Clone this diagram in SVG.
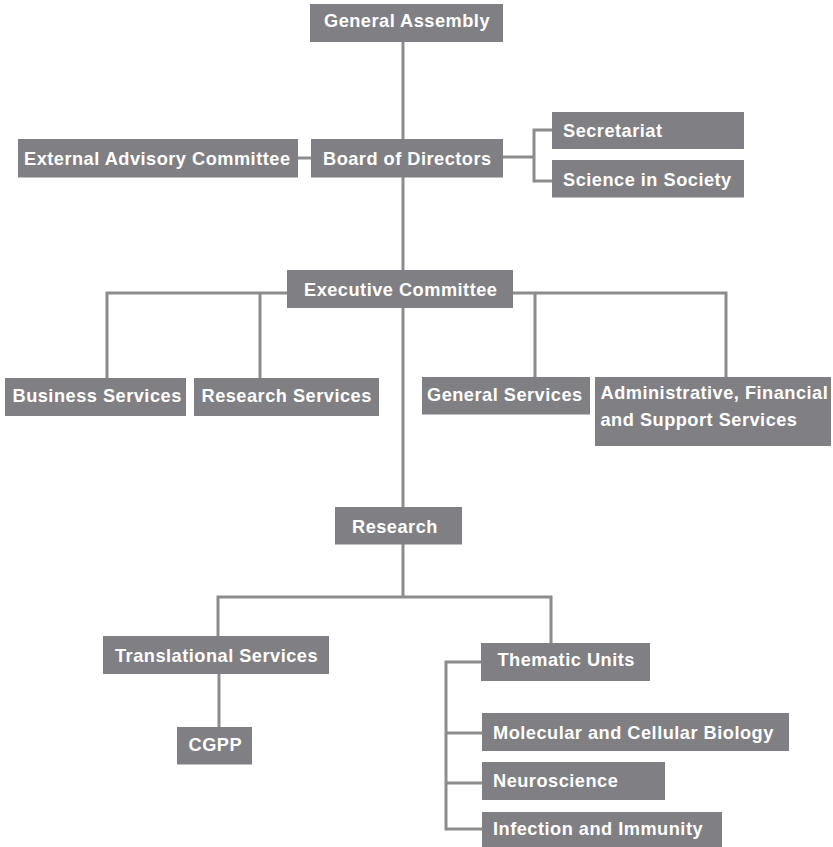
<svg xmlns="http://www.w3.org/2000/svg" width="833" height="847" viewBox="0 0 833 847">
<style>
.box{fill:#808084}
.t{fill:#ffffff;font-family:"Liberation Sans",Arial,sans-serif;font-weight:bold;font-size:18.2px;letter-spacing:0.5px}
.c{fill:none;stroke:#8c8c8e;stroke-width:3}
</style>
<rect width="833" height="847" fill="#ffffff"/>
<g id="connectors">
<path class="c" d="M403,42V139"/>
<path class="c" d="M298,158H311"/>
<path class="c" d="M503,157H534M552,130H534V181H552"/>
<path class="c" d="M403,177V270"/>
<path class="c" d="M107,378V293H726V377M260,293V378M535,293V377"/>
<path class="c" d="M403,308V507"/>
<path class="c" d="M403,544V597M218,636V597H551V643"/>
<path class="c" d="M219,674V727"/>
<path class="c" d="M481,662H446V829H482M446,733H482M446,783H482"/>
</g>
<g id="general-assembly"><rect class="box" x="310" y="4" width="193" height="38"/><text class="t" x="324" y="27">General Assembly</text></g>
<g id="external-advisory"><rect class="box" x="18" y="139" width="280" height="38.5"/><text class="t" x="24" y="165">External Advisory Committee</text></g>
<g id="board"><rect class="box" x="311" y="139" width="192" height="38.5"/><text class="t" x="323" y="165">Board of Directors</text></g>
<g id="secretariat"><rect class="box" x="552" y="112" width="192" height="37"/><text class="t" x="563" y="136.5">Secretariat</text></g>
<g id="science-in-society"><rect class="box" x="552" y="160" width="192" height="37.5"/><text class="t" x="563" y="186">Science in Society</text></g>
<g id="executive"><rect class="box" x="287" y="270" width="226" height="38"/><text class="t" x="304" y="295.5">Executive Committee</text></g>
<g id="business-services"><rect class="box" x="5" y="378" width="181" height="38"/><text class="t" x="12.5" y="402">Business Services</text></g>
<g id="research-services"><rect class="box" x="194" y="378" width="185" height="38"/><text class="t" x="201.5" y="402">Research Services</text></g>
<g id="general-services"><rect class="box" x="422" y="377" width="168" height="37.5"/><text class="t" x="427" y="400.5">General Services</text></g>
<g id="admin"><rect class="box" x="595" y="377" width="236" height="69"/><text class="t" x="600.5" y="398.5">Administrative, Financial</text><text class="t" x="600.5" y="425.5">and Support Services</text></g>
<g id="research"><rect class="box" x="335" y="507" width="127" height="37.5"/><text class="t" x="352" y="532.5">Research</text></g>
<g id="translational"><rect class="box" x="103" y="636" width="226" height="38"/><text class="t" x="115" y="661.5">Translational Services</text></g>
<g id="cgpp"><rect class="box" x="177" y="727" width="75" height="37.5"/><text class="t" x="188.5" y="750.5">CGPP</text></g>
<g id="thematic"><rect class="box" x="481" y="643" width="169" height="38"/><text class="t" x="497.5" y="665.5">Thematic Units</text></g>
<g id="molecular"><rect class="box" x="482" y="713" width="307" height="38"/><text class="t" x="493" y="738.5">Molecular and Cellular Biology</text></g>
<g id="neuroscience"><rect class="box" x="482" y="762" width="183" height="38"/><text class="t" x="493" y="787">Neuroscience</text></g>
<g id="infection"><rect class="box" x="482" y="812" width="240" height="36"/><text class="t" x="493" y="834.5">Infection and Immunity</text></g>
</svg>
